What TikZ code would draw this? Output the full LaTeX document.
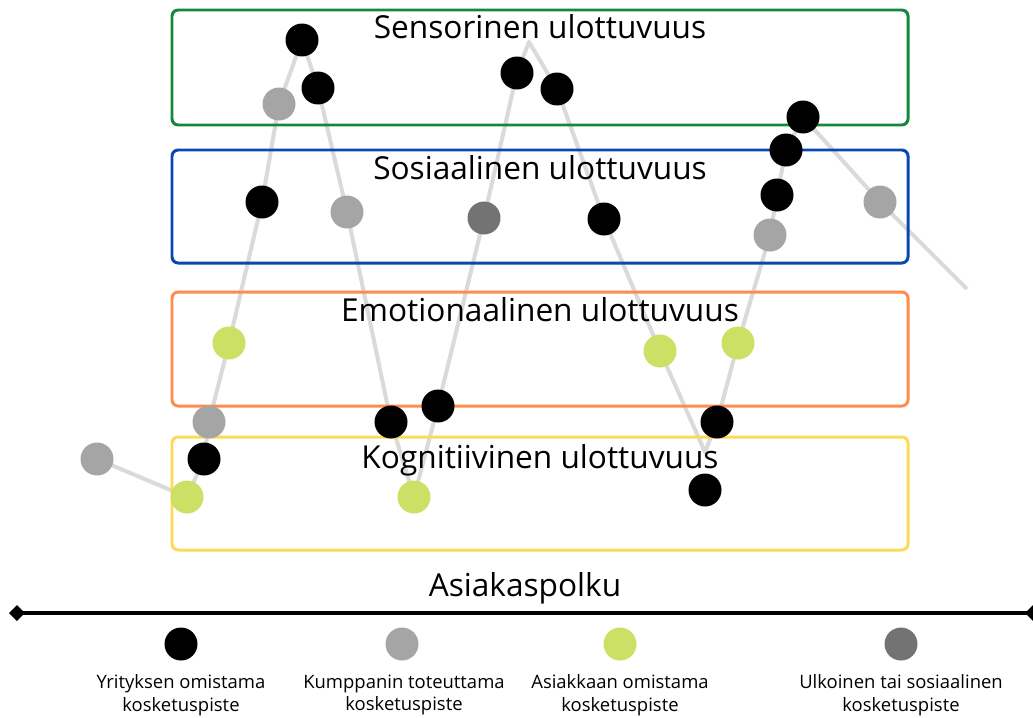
\documentclass[tikz,border=0pt]{standalone}
\usepackage{fontspec}
\setmainfont{Open Sans}
\usetikzlibrary{arrows.meta,backgrounds}

\definecolor{sensgreen}{RGB}{20,135,60}
\definecolor{sosblue}{RGB}{8,72,176}
\definecolor{emoorange}{RGB}{255,140,75}
\definecolor{kogyellow}{RGB}{255,217,85}
\definecolor{asiakas}{RGB}{203,224,100}
\definecolor{kumppani}{RGB}{165,165,165}
\definecolor{ulkoinen}{RGB}{115,115,115}
\definecolor{polku}{RGB}{218,218,218}

\tikzset{
  dot/.style={circle, inner sep=0pt, minimum size=0.66cm},
  yritys/.style={dot, fill=black},
  kump/.style={dot, fill=kumppani},
  asiak/.style={dot, fill=asiakas},
  ulko/.style={dot, fill=ulkoinen},
  layerbox/.style={line width=1.7pt, rounded corners=3.5pt},
  layertitle/.style={font=\fontsize{18}{21}\selectfont},
  legendtext/.style={font=\fontsize{10.5}{13}\selectfont, align=center}
}

\begin{document}
\begin{tikzpicture}[x=0.02cm, y=-0.02cm]
\useasboundingbox (0,0) rectangle (1033,717);
%layers
\draw[layerbox, sensgreen] (172,10) rectangle (908,125);
\draw[layerbox, sosblue] (172,150) rectangle (908,263);
\draw[layerbox, emoorange] (172,292) rectangle (908,406);
\draw[layerbox, kogyellow] (172,437) rectangle (908,550);
%touchpoints
\node[kump] (p1) at (97,459) {};
\node[asiak] (p2) at (187,497) {};
\node[yritys] (p3) at (204,459) {};
\node[kump] (p4) at (209,422) {};
\node[asiak] (p5) at (229,343) {};
\node[yritys] (p6) at (262,202) {};
\node[kump] (p7) at (279,104) {};
\node[yritys] (p8) at (302,40) {};
\node[yritys] (p9) at (318,88) {};
\node[kump] (p10) at (347,212) {};
\node[yritys] (p11) at (391,422) {};
\node[asiak] (p12) at (414,497) {};
\node[yritys] (p13) at (438,406) {};
\node[ulko] (p14) at (484,218) {};
\node[yritys] (p15) at (517,73) {};
\coordinate (c1) at (529,42);
\node[yritys] (p16) at (557,89) {};
\node[yritys] (p17) at (604,219) {};
\node[asiak] (p18) at (660,351) {};
\coordinate (c2) at (705,452);
\node[yritys] (p19) at (717,422) {};
\node[asiak] (p20) at (738,343) {};
\node[kump] (p21) at (770,235) {};
\node[yritys] (p22) at (777,195) {};
\node[yritys] (p23) at (786,150) {};
\node[yritys] (p24) at (803,117) {};
\node[kump] (p25) at (880,202) {};
\coordinate (c3) at (967,289);
\node[yritys] (p26) at (705,490) {};
%path
\begin{scope}[on background layer]
\draw[polku, line width=2.3pt, line join=round]
  (p1.center) -- (p2.center) -- (p3.center) -- (p4.center) -- (p5.center)
  -- (p6.center) -- (p7.center) -- (p8.center) -- (p9.center) -- (p10.center)
  -- (p11.center) -- (p12.center) -- (p13.center) -- (p14.center) -- (p15.center)
  -- (c1) -- (p16.center) -- (p17.center) -- (p18.center) -- (c2)
  -- (p19.center) -- (p20.center) -- (p21.center) -- (p22.center) -- (p23.center)
  -- (p24.center) -- (p25.center) -- (c3);
\end{scope}
%titles
\node[layertitle] (sens) at (540,27) {Sensorinen ulottuvuus};
\node[layertitle] (sos) at (540,168) {Sosiaalinen ulottuvuus};
\node[layertitle] (emo) at (540,310) {Emotionaalinen ulottuvuus};
\node[layertitle] (kog) at (540,460) {Kognitiivinen ulottuvuus};
%axis
\node[layertitle] (otsikko) at (525,588) {Asiakaspolku};
\coordinate (alku) at (9,613);
\coordinate (loppu) at (1041,613);
\draw[line width=2.3pt, {Diamond[length=9pt,width=9pt]}-{Diamond[length=9pt,width=9pt]}] (alku) -- (loppu);
%legend
\node[yritys] (l1) at (181,644) {};
\node[kump] (l2) at (402,644) {};
\node[asiak] (l3) at (620,644) {};
\node[ulko] (l4) at (901,644) {};
\node[legendtext] (t1) at (181,695) {Yrityksen omistama\\kosketuspiste};
\node[legendtext] (t2) at (404,695) {Kumppanin toteuttama\\kosketuspiste};
\node[legendtext] (t3) at (620,695) {Asiakkaan omistama\\kosketuspiste};
\node[legendtext] (t4) at (901,695) {Ulkoinen tai sosiaalinen\\kosketuspiste};
\end{tikzpicture}
\end{document}
